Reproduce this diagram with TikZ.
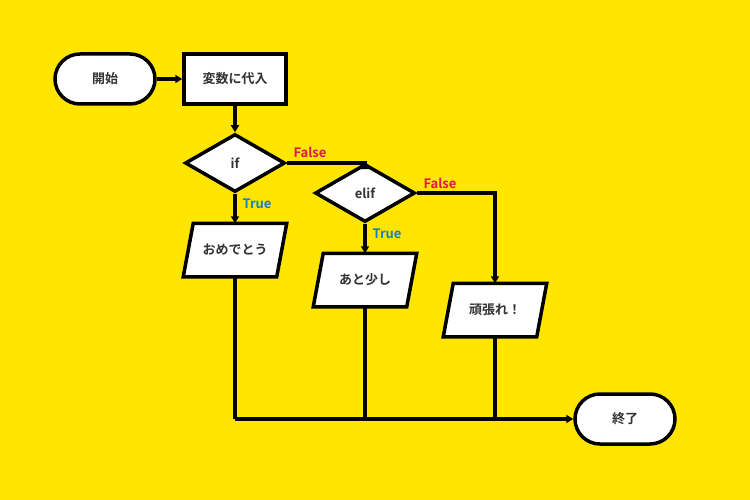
\documentclass[tikz,border=0pt]{standalone}
\usepackage{fontspec}
\setmainfont{Noto Sans CJK JP}[BoldFont={* Bold}]
\usetikzlibrary{shapes.geometric,calc,arrows.meta}
\definecolor{bg}{HTML}{FFE500}
\definecolor{tx}{HTML}{333333}
\definecolor{fr}{HTML}{E0194F}
\definecolor{tr}{HTML}{1A7FC1}
\begin{document}
\begin{tikzpicture}[x=1pt,y=-1pt,
  base/.style={font=\fontsize{13}{15}\selectfont\bfseries,text=tx,line width=3.5pt,inner sep=0pt},
  term/.style={base,draw,fill=white,rounded corners=25pt,minimum width=100pt,minimum height=50pt},
  proc/.style={base,draw,fill=white,minimum width=102pt,minimum height=50pt},
  dec/.style={base,draw,fill=white,diamond,aspect=1.72,minimum width=100pt,minimum height=58pt},
  io/.style={base,minimum width=90pt,minimum height=50pt},
  ln/.style={line width=3.5pt,line join=miter},
  ar/.style={ln,-{Triangle[length=7pt,width=8pt]}},
  lbl/.style={font=\fontsize{13}{15}\selectfont\bfseries}]
\fill[bg] (0,0) rectangle (750,500);
\useasboundingbox (0,0) rectangle (750,500);
\node[term] (start) at (105,79) {開始};
\node[proc] (assign) at (235,79) {変数に代入};
\node[dec] (if) at (235,163) {if};
\node[dec] (elif) at (365,193) {elif};
\node[io] (omed) at (235,250) {};
\node[io] (ato) at (365,280) {};
\node[io] (gan) at (495,310) {};
\foreach \n/\t in {omed/おめでとう,ato/あと少し,gan/頑張れ！}{
  \draw[ln,fill=white] ($(\n.north west)+(5,0)$) -- ($(\n.north east)+(5,0)$) -- ($(\n.south east)+(-5,0)$) -- ($(\n.south west)+(-5,0)$) -- cycle;
  \node[base] at (\n) {\t};
}
\node[term] (end) at (625,419) {終了};
\coordinate (j1) at (235,419);
\coordinate (j2) at (365,419);
\coordinate (j3) at (495,419);
\draw[ar] (start) -- (assign);
\draw[ar] (assign) -- (if);
\draw[ar] (if.east) -| (elif.north);
\draw[ar] (if) -- (omed.north);
\draw[ar] (elif) -- (ato.north);
\draw[ar] (elif.east) -| (gan.north);
\draw[ln] (omed.south) -- (j1);
\draw[ln] (ato.south) -- (j2);
\draw[ln] (gan.south) -- (j3);
\draw[ar] (j1) -- (end.west);
\node[lbl,text=fr] at (310,152) {False};
\node[lbl,text=tr] at (257,204) {True};
\node[lbl,text=tr] at (387,234) {True};
\node[lbl,text=fr] at (440,183) {False};
\end{tikzpicture}
\end{document}
